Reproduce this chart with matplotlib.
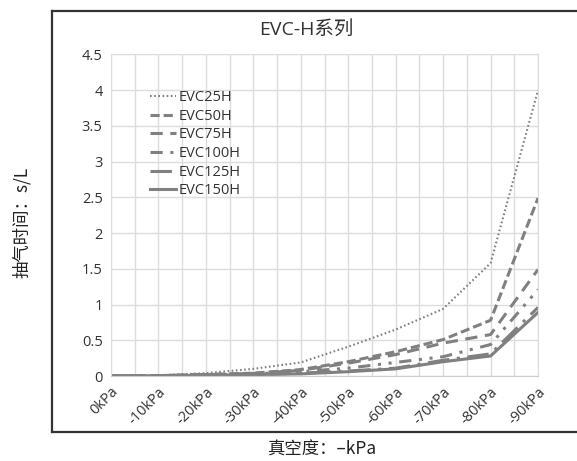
import numpy as np
import matplotlib.pyplot as plt
from matplotlib.lines import Line2D

plt.rcParams['font.family'] = ['Open Sans', 'Noto Sans CJK SC', 'DejaVu Sans']

categories = ['0kPa', '-10kPa', '-20kPa', '-30kPa', '-40kPa',
              '-50kPa', '-60kPa', '-70kPa', '-80kPa', '-90kPa']

evc25h = [0, 0.01, 0.04, 0.1, 0.19, 0.41, 0.65, 0.94, 1.58, 4.0]
evc50h = [0, 0.005, 0.02, 0.04, 0.09, 0.2, 0.34, 0.51, 0.78, 2.49]
evc75h = [0, 0.005, 0.02, 0.035, 0.08, 0.18, 0.3, 0.46, 0.58, 1.49]
evc100h = [0, 0.004, 0.015, 0.03, 0.06, 0.11, 0.19, 0.27, 0.44, 1.21]
evc125h = [0, 0.003, 0.01, 0.02, 0.04, 0.07, 0.11, 0.22, 0.31, 0.96]
evc150h = [0, 0.003, 0.01, 0.02, 0.03, 0.06, 0.1, 0.2, 0.28, 0.89]

labels = ['EVC25H', 'EVC50H', 'EVC75H', 'EVC100H', 'EVC125H', 'EVC150H']
series = [evc25h, evc50h, evc75h, evc100h, evc125h, evc150h]
styles = [(0, (0.8, 1.2)), (0, (3, 1.3)), (0, (4, 2.5)),
          (0, (4, 2.5, 1, 2.5, 1, 2.5)), (0, (7, 2.5, 1, 2.5)), '-']
widths = [1.5, 2.2, 2.2, 2.2, 2.2, 2.2]

fig = plt.figure(figsize=(5.77, 4.61), dpi=100)
ax = fig.add_axes([111 / 577, 1 - 376 / 461, 427 / 577, 321.5 / 461])

x = np.arange(len(categories))
for vals, lab, ls, lw in zip(series, labels, styles, widths):
    ax.plot(x, vals, color='#808080', linestyle=ls, linewidth=lw, label=lab)

ax.set_xlim(0, 9)
ax.set_ylim(0, 4.5)
ax.set_yticks(np.arange(0, 4.51, 0.5))
ax.set_yticklabels(['0', '0.5', '1', '1.5', '2', '2.5', '3', '3.5', '4', '4.5'])
ax.set_xticks(x)
ax.set_xticklabels(categories, rotation=45, ha='right', rotation_mode='anchor')
ax.set_xticks(np.arange(0, 9.01, 0.5), minor=True)
ax.tick_params(length=0, labelsize=10.5, colors='#333333', pad=6)
ax.tick_params(which='minor', length=0)
ax.grid(True, which='both', axis='x', color='#dcdcdc', linewidth=1)
ax.grid(True, axis='y', color='#dcdcdc', linewidth=1)
for s in ax.spines.values():
    s.set_color('#dcdcdc')
ax.spines['bottom'].set_color('#cccccc')

leg = ax.legend(loc='upper left', bbox_to_anchor=(0.06, 0.93), frameon=False,
                fontsize=10.5, handlelength=1.8, handletextpad=0.2,
                labelspacing=0.25)
for t in leg.get_texts():
    t.set_color('#333333')

fig.text(306 / 577, 1 - 30 / 461, 'EVC-H系列', ha='center', va='center',
         fontsize=14, color='#333333')
fig.text(22 / 577, 1 - 222 / 461, '抽气时间：s/L', ha='center', va='center',
         rotation=90, fontsize=12.5, color='#222222',
         family=['Noto Sans CJK SC', 'DejaVu Sans'], weight='medium')
fig.text(322 / 577, 1 - 450 / 461, '真空度：–kPa', ha='center', va='center',
         fontsize=12.5, color='#222222',
         family=['Noto Sans CJK SC', 'DejaVu Sans'], weight='medium')

# outer chart frame
fx0, fx1 = 52 / 577, 1.0
fy0, fy1 = 1 - 432 / 461, 1 - 11 / 461
for xs, ys in [([fx0, fx1], [fy1, fy1]), ([fx0, fx1], [fy0, fy0]),
               ([fx0, fx0], [fy0, fy1])]:
    fig.add_artist(Line2D(xs, ys, transform=fig.transFigure,
                          color='#333333', linewidth=1.6))

fig.savefig('out.png', dpi=100)
